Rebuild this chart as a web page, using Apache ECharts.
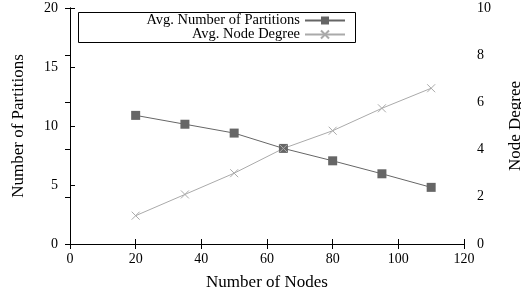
<!DOCTYPE html>
<html lang="en">
<head>
    <meta charset="UTF-8">
    <title>Partitions vs Nodes</title>
    <style>
        html, body { margin: 0; padding: 0; background: #fff; }
        #chart { width: 521px; height: 293px; }
    </style>
</head>
<body>
    <div id="chart"></div>
    <script src="https://cdn.jsdelivr.net/npm/echarts@6/dist/echarts.min.js"></script>
    <script>
        // data
        var nodes = [20, 35, 50, 65, 80, 95, 110];
        var partitions = [10.9, 10.15, 9.4, 8.1, 7.05, 5.95, 4.8];
        var degree = [1.2, 2.1, 3.0, 4.05, 4.8, 5.75, 6.6];
        var seriesNames = ['Avg. Number of Partitions', 'Avg. Node Degree'];

        var chart = echarts.init(document.getElementById('chart'));
        var font = 'Liberation Serif';
        var crossPath = 'path://M0,0L10,10M10,0L0,10';

        function pairs(xs, ys) {
            return xs.map(function (x, i) { return [x, ys[i]]; });
        }

        // one legend per row, anchored on the right so the text lines up against the keys
        function legendRow(name, top) {
            return {
                right: 175, top: top,
                align: 'right',
                itemWidth: 40,
                itemHeight: 10,
                padding: 0,
                textStyle: { fontFamily: font, fontSize: 14.5, color: '#000' },
                data: [name]
            };
        }

        var axisLine = { lineStyle: { color: '#000', width: 1 } };
        var ticksIn = { inside: true, length: 5, lineStyle: { color: '#000' } };
        var tickFont = { fontFamily: font, fontSize: 14, color: '#000' };
        var nameFont = { fontFamily: font, fontSize: 17, color: '#000' };

        option = {
            animation: false,
            grid: { left: 70, right: 57, top: 8, bottom: 49, containLabel: false, outerBoundsMode: 'none' },
            legend: [legendRow(seriesNames[0], 13), legendRow(seriesNames[1], 27)],
            graphic: [{
                type: 'rect',
                shape: { x: 78.5, y: 12.5, width: 277, height: 30 },
                style: { fill: 'none', stroke: '#000', lineWidth: 1 },
                z: 10
            }],
            xAxis: [{
                type: 'value', min: 0, max: 120, interval: 20,
                name: 'Number of Nodes', nameLocation: 'middle', nameGap: 30,
                nameTextStyle: nameFont,
                axisLine: axisLine, axisTick: ticksIn,
                axisLabel: Object.assign({ margin: 8 }, tickFont),
                splitLine: { show: false }
            }, {
                type: 'value', min: 0, max: 120, interval: 20, position: 'top',
                axisLine: axisLine, axisTick: ticksIn,
                axisLabel: { show: false }, splitLine: { show: false }
            }],
            yAxis: [{
                type: 'value', min: 0, max: 20, interval: 5,
                name: 'Number of Partitions', nameLocation: 'middle', nameGap: 43,
                nameTextStyle: nameFont,
                axisLine: axisLine, axisTick: ticksIn,
                axisLabel: Object.assign({ margin: 12 }, tickFont),
                splitLine: { show: false }
            }, {
                type: 'value', min: 0, max: 10, interval: 2, position: 'right',
                name: 'Node Degree', nameLocation: 'middle', nameGap: 43,
                nameTextStyle: nameFont,
                axisLine: axisLine, axisTick: ticksIn,
                axisLabel: Object.assign({ margin: 13 }, tickFont),
                splitLine: { show: false }
            }],
            series: [{
                name: seriesNames[0],
                type: 'line',
                yAxisIndex: 0,
                data: pairs(nodes, partitions),
                symbol: 'rect', symbolSize: 9,
                lineStyle: { color: '#666', width: 1 },
                itemStyle: { color: '#666' }
            }, {
                name: seriesNames[1],
                type: 'line',
                yAxisIndex: 1,
                data: pairs(nodes, degree),
                symbol: crossPath, symbolSize: 8,
                lineStyle: { color: '#aaa', width: 1 },
                itemStyle: { color: 'none', borderColor: '#aaa', borderWidth: 1 }
            }]
        };

        chart.setOption(option, true);
    </script>
</body>
</html>
